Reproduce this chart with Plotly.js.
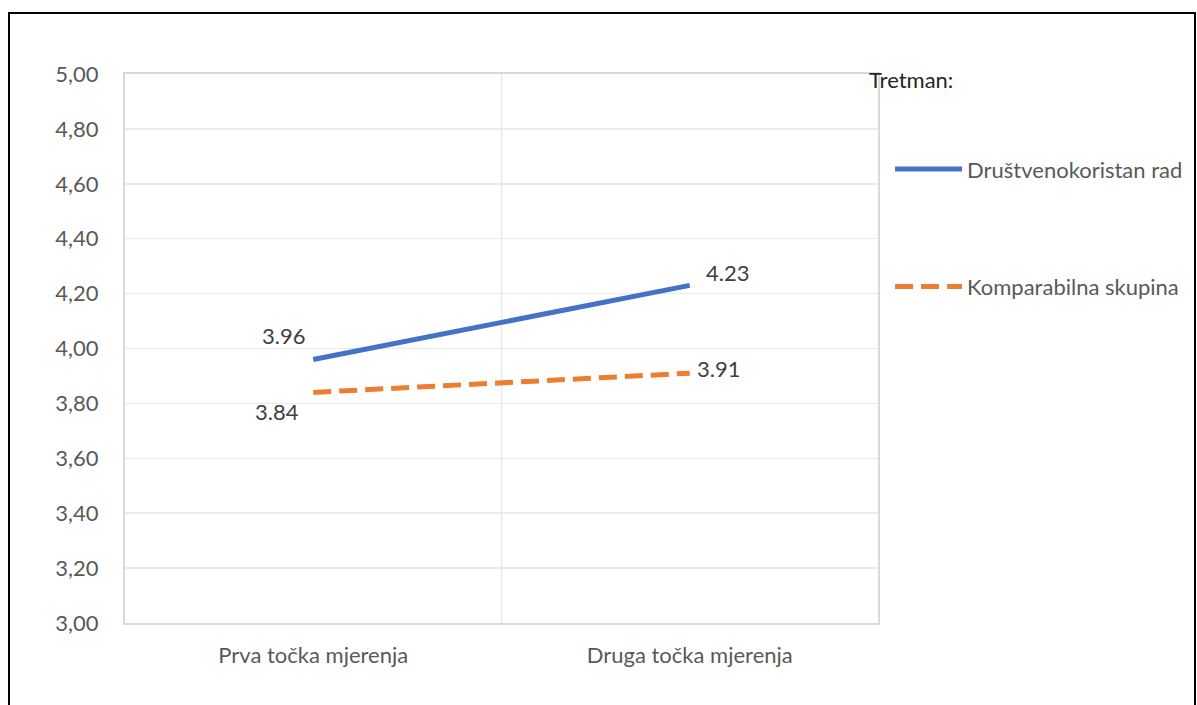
<!DOCTYPE html>
<html>
<head>
<meta charset="utf-8">
<script src="https://cdn.plot.ly/plotly-3.0.1.min.js"></script>
<style>
html,body{margin:0;padding:0;background:#fff;overflow:hidden;}
#wrap{position:relative;width:1197px;height:705px;}
#chart{position:absolute;left:0;top:0;width:1197px;height:705px;}
#frame{position:absolute;left:8px;top:12px;width:1184px;height:720px;border:2px solid #000;pointer-events:none;}
</style>
</head>
<body>
<div id="wrap"><div id="chart"></div><div id="frame"></div></div>
<script>
const categories = ["Prva točka mjerenja", "Druga točka mjerenja"];
const seriesNames = ["Društvenokoristan rad", "Komparabilna skupina"];
const drustvenokoristan = [3.96, 4.23];
const komparabilna = [3.84, 3.91];
const yTicks = [3.0, 3.2, 3.4, 3.6, 3.8, 4.0, 4.2, 4.4, 4.6, 4.8, 5.0];
const legendTitle = "Tretman:";

const FONT = "Lato, 'Open Sans', sans-serif";
const FS = 22;

const traces = [
  {
    x: categories, y: drustvenokoristan, name: seriesNames[0],
    type: 'scatter', mode: 'lines',
    line: {color: '#4472C4', width: 5},
    legendgroup: 'a', cliponaxis: false, hoverinfo: 'skip'
  },
  {
    x: categories, y: komparabilna, name: seriesNames[1],
    type: 'scatter', mode: 'lines',
    line: {color: '#ED7D31', width: 5, dash: '18px,8px'},
    legendgroup: 'b', cliponaxis: false, hoverinfo: 'skip'
  }
];

// data label offsets (style only)
const blueShift = [[-30, 24], [38, 13]];
const orangeShift = [[-36, -19], [29, 5]];
const labelAnn = [];
function addLabels(vals, shifts) {
  vals.forEach((v, i) => {
    labelAnn.push({
      x: categories[i], y: v, xref: 'x', yref: 'y',
      text: v.toFixed(2), showarrow: false,
      xanchor: 'center', yanchor: 'middle',
      xshift: shifts[i][0], yshift: shifts[i][1],
      font: {family: FONT, size: FS, color: '#404040'}
    });
  });
}
addLabels(drustvenokoristan, blueShift);
addLabels(komparabilna, orangeShift);

const layout = {
  width: 1197, height: 705,
  margin: {l: 125, r: 319, t: 74, b: 82, autoexpand: false},
  paper_bgcolor: '#fff', plot_bgcolor: '#fff',
  separators: ',.',
  font: {family: FONT, size: FS, color: '#595959'},
  showlegend: true,
  legend: {
    x: 1.016, xanchor: 'left', y: 0.865, yanchor: 'top',
    traceorder: 'grouped', tracegroupgap: 86,
    font: {family: FONT, size: FS, color: '#595959'},
    bgcolor: 'rgba(0,0,0,0)', itemwidth: 67
  },
  xaxis: {
    type: 'category', range: [-0.5, 1.5],
    showgrid: false, zeroline: false,
    showline: true, linecolor: '#d9d9d9', linewidth: 2, mirror: true,
    ticks: '', ticklabelstandoff: 12,
    tickfont: {family: FONT, size: FS, color: '#595959'}
  },
  yaxis: {
    range: [3, 5], tickvals: yTicks, tickformat: '.2f',
    showgrid: true, gridcolor: '#eaeaea', gridwidth: 1.5, zeroline: false,
    showline: true, linecolor: '#d9d9d9', linewidth: 2, mirror: true,
    ticks: '', ticklabelstandoff: 20,
    tickfont: {family: FONT, size: FS, color: '#595959'}
  },
  shapes: [
    {type: 'line', xref: 'x', yref: 'paper', x0: 0.5, x1: 0.5, y0: 0, y1: 1,
     line: {color: '#eaeaea', width: 1.5}, layer: 'below'}
  ],
  annotations: labelAnn.concat([
    {text: legendTitle, xref: 'paper', yref: 'paper', x: 0.985, y: 0.99,
     xanchor: 'left', yanchor: 'middle', showarrow: false,
     font: {family: FONT, size: FS, color: '#262626'}}
  ])
};

Plotly.newPlot('chart', traces, layout, {displayModeBar: false, staticPlot: true});
</script>
</body>
</html>
